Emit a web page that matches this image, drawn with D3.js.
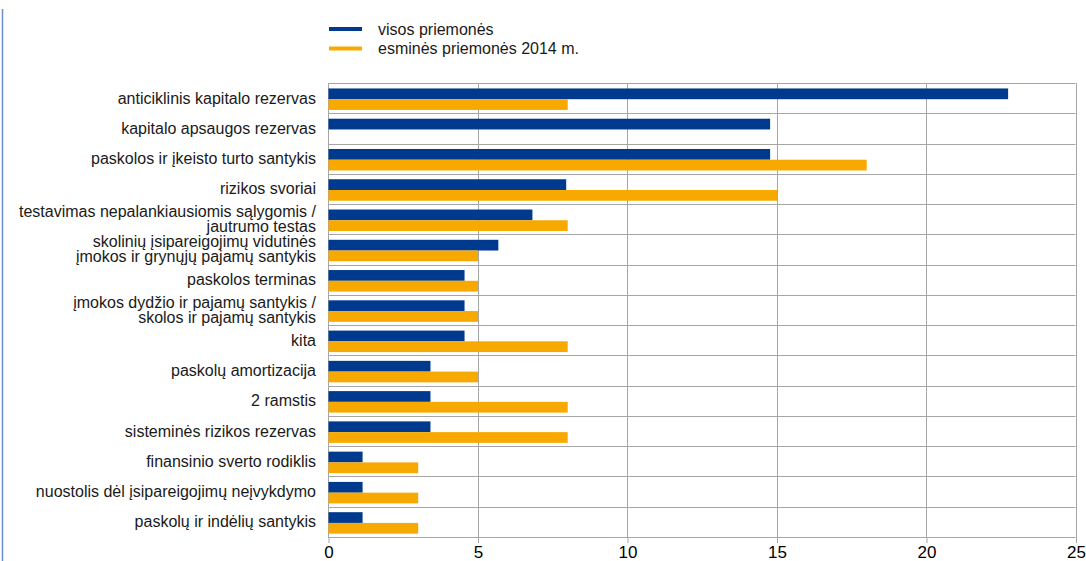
<!DOCTYPE html>
<html>
<head>
<meta charset="utf-8">
<script src="https://cdn.jsdelivr.net/npm/d3@7"></script>
<style>
  html, body { margin: 0; padding: 0; background: #fff; }
  svg { display: block; font-family: "Liberation Sans", Arial, sans-serif; }
</style>
</head>
<body>
<svg id="chart" width="1086" height="561"></svg>
<script>
// Category labels (multi-line labels split on "\n")
const categories = [
  "anticiklinis kapitalo rezervas",
  "kapitalo apsaugos rezervas",
  "paskolos ir įkeisto turto santykis",
  "rizikos svoriai",
  "testavimas nepalankiausiomis sąlygomis /\njautrumo testas",
  "skolinių įsipareigojimų vidutinės\nįmokos ir grynųjų pajamų santykis",
  "paskolos terminas",
  "įmokos dydžio ir pajamų santykis /\nskolos ir pajamų santykis",
  "kita",
  "paskolų amortizacija",
  "2 ramstis",
  "sisteminės rizikos rezervas",
  "finansinio sverto rodiklis",
  "nuostolis dėl įsipareigojimų neįvykdymo",
  "paskolų ir indėlių santykis"
];
const seriesNames = ["visos priemonės", "esminės priemonės 2014 m."];
const allMeasures = [22.73, 14.77, 14.77, 7.95, 6.82, 5.68, 4.55, 4.55, 4.55, 3.41, 3.41, 3.41, 1.14, 1.14, 1.14];
const keyMeasures2014 = [8, 0, 18, 15, 8, 5, 5, 5, 8, 5, 8, 8, 3, 3, 3];
const xTicks = [0, 5, 10, 15, 20, 25];

const colors = ["#003a8f", "#f7a900"];

const svg = d3.select("#chart");
const margin = { left: 328, right: 1086 - 1075.5, top: 83, bottom: 561 - 537 };
const W = 1086, H = 561;

const x = d3.scaleLinear().domain([0, 25]).range([margin.left, W - margin.right]);
const y = d3.scaleBand().domain(categories).range([margin.top, H - margin.bottom]).paddingInner(0).paddingOuter(0);
const bh = y.bandwidth();
const barH = bh * 0.355;
const barOff = bh * 0.18;

// left decorative rule
svg.append("line")
  .attr("x1", 2.5).attr("x2", 2.5).attr("y1", 9).attr("y2", H)
  .attr("stroke", "#6b8fc7").attr("stroke-width", 1.5);

// horizontal grid lines at category boundaries
const bounds = categories.map(c => y(c)).concat([H - margin.bottom]);
svg.append("g").selectAll("line").data(bounds).join("line")
  .attr("x1", margin.left).attr("x2", W - margin.right)
  .attr("y1", d => Math.round(d) + 0.5).attr("y2", d => Math.round(d) + 0.5)
  .attr("stroke", "#a6a6a6").attr("stroke-width", 1);

// vertical grid lines
svg.append("g").selectAll("line").data(xTicks).join("line")
  .attr("x1", d => Math.round(x(d)) + 0.5).attr("x2", d => Math.round(x(d)) + 0.5)
  .attr("y1", margin.top).attr("y2", H - margin.bottom)
  .attr("stroke", "#a6a6a6").attr("stroke-width", 1);

// bars
const data = categories.map((c, i) => ({ c, v: [allMeasures[i], keyMeasures2014[i]] }));
const groups = svg.append("g").selectAll("g").data(data).join("g");
[0, 1].forEach(s => {
  groups.append("rect")
    .attr("x", x(0) + 0.5)
    .attr("y", d => y(d.c) + barOff + s * barH)
    .attr("height", barH)
    .attr("width", d => Math.max(0, x(d.v[s]) - x(0)))
    .attr("fill", colors[s]);
});

// x axis
const xAxis = d3.axisBottom(x).tickValues(xTicks).tickSize(6).tickPadding(3);
const gx = svg.append("g").attr("transform", `translate(0.5,${H - margin.bottom})`).call(xAxis);
gx.select(".domain").remove();
gx.selectAll(".tick line").attr("stroke", "#a6a6a6");
gx.selectAll(".tick text").attr("font-size", 17).attr("fill", "#000")
  .attr("dy", "0.7em")
  .attr("font-family", '"Liberation Sans", Arial, sans-serif');

// category labels
const lab = svg.append("g").selectAll("text").data(categories).join("text")
  .attr("x", 316)
  .attr("text-anchor", "end")
  .attr("font-size", 16)
  .attr("fill", "#1a1a1a");
lab.each(function(d) {
  const lines = d.split("\n");
  const cy = y(d) + bh / 2;
  const lh = 15;
  const t = d3.select(this);
  lines.forEach((ln, k) => {
    t.append("tspan")
      .attr("x", 316)
      .attr("y", cy + (k - (lines.length - 1) / 2) * lh + 5.5)
      .text(ln);
  });
});

// legend
const leg = svg.append("g").selectAll("g").data(seriesNames).join("g")
  .attr("transform", (d, i) => `translate(329,${29 + i * 19.5})`);
leg.append("line").attr("x1", 0).attr("x2", 33).attr("y1", 0).attr("y2", 0)
  .attr("stroke", (d, i) => colors[i]).attr("stroke-width", 4);
leg.append("text").attr("x", 49).attr("y", 5.5).attr("font-size", 16)
  .attr("fill", "#1a1a1a").text(d => d);
</script>
</body>
</html>
